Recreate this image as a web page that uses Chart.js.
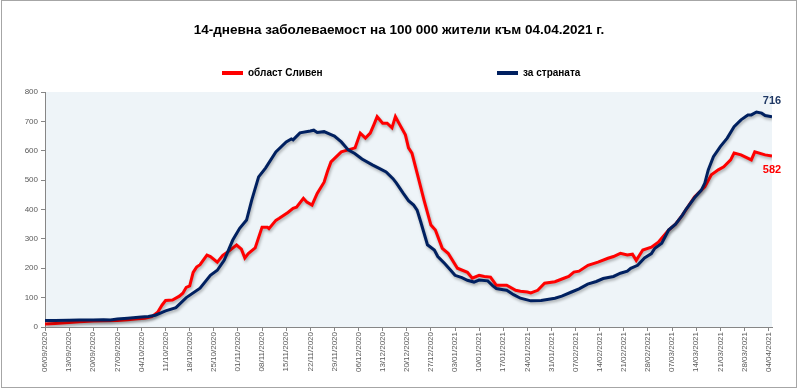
<!DOCTYPE html>
<html>
<head>
<meta charset="utf-8">
<script src="https://cdn.jsdelivr.net/npm/chart.js@4/dist/chart.umd.min.js"></script>
<style>
  html, body { margin: 0; padding: 0; background: #fff; }
  #wrap { width: 800px; height: 389px; }
</style>
</head>
<body>
<div id="wrap"><canvas id="myChart" width="800" height="389"></canvas></div>
<script>
let title = '14-дневна заболеваемост на 100 000 жители към 04.04.2021 г.';
let seriesNames = ['област Сливен', 'за страната'];
let colorHex = ['#ff0000', '#002060'];

let tickLabels = ['06/09/2020', '13/09/2020', '20/09/2020', '27/09/2020', '04/10/2020', '11/10/2020',
  '18/10/2020', '25/10/2020', '01/11/2020', '08/11/2020', '15/11/2020', '22/11/2020', '29/11/2020',
  '06/12/2020', '13/12/2020', '20/12/2020', '27/12/2020', '03/01/2021', '10/01/2021', '17/01/2021',
  '24/01/2021', '31/01/2021', '07/02/2021', '14/02/2021', '21/02/2021', '28/02/2021', '07/03/2021',
  '14/03/2021', '21/03/2021', '28/03/2021', '04/04/2021'];

// days counted from 06/09/2020
let slivenDays = [0, 3, 7, 10, 14, 17, 21, 24, 27, 29, 31, 32.7, 34, 35, 37, 39, 40, 41, 42, 43, 44, 45,
  47, 48, 50, 51.6, 53, 55.6, 57, 58, 59, 61, 63, 64.5, 65, 67, 68, 70.5, 72, 73, 75, 76, 77.5, 79, 81,
  82, 83, 86, 88, 90, 91.5, 93, 94.4, 95.5, 96.4, 98, 99.3, 100.7, 101.7, 103, 104.6, 105.5, 106.5, 108,
  110, 112, 113.3, 115.3, 117, 119.7, 122.6, 124, 126, 127.5, 129.3, 131, 134, 136.6, 138, 140, 141,
  143, 145, 148, 150.6, 152, 153.5, 155, 157.6, 160.5, 163.4, 165, 167, 169, 170.5, 171.6, 173.5, 176,
  178, 181, 183, 185, 188.5, 191.5, 193.4, 195.4, 197, 199, 200, 202, 205, 206, 209, 211];
let slivenValues = [10, 12, 15, 18, 20, 21, 22, 25, 28, 30, 35, 50, 75, 90, 92, 105, 115, 135, 140, 186,
  204, 212, 245, 240, 221, 244, 255, 279, 265, 235, 250, 269, 340, 340, 335, 363, 370, 390, 404, 408,
  438, 425, 415, 455, 493, 530, 562, 596, 603, 610, 660, 643, 660, 690, 716, 694, 694, 678, 716, 688,
  654, 610, 592, 524, 432, 347, 330, 268, 251, 200, 186, 166, 176, 172, 170, 142, 142, 125, 122, 119,
  116, 125, 149, 154, 166, 172, 187, 190, 210, 221, 234, 240, 251, 245, 248, 227, 262, 272, 289, 330,
  350, 381, 443, 477, 518, 535, 545, 569, 592, 586, 569, 596, 586, 582];

let countryDays = [0, 3, 7, 10, 14, 17, 19, 21, 24, 28, 30, 32, 34, 35, 38, 41, 45, 48, 50, 52, 54.5,
  56.5, 58.5, 60, 62, 64, 67, 70, 71.5, 72, 74, 77, 78, 79, 81, 83, 84, 86, 88, 90, 92, 95, 97, 99, 101,
  102, 104, 105.5, 107, 108, 109, 110, 111, 113, 114, 116, 118, 119, 121, 122.6, 124.5, 126, 128.5, 130,
  131, 133, 134, 136, 138, 141, 144, 148, 150, 153, 155, 157.5, 160, 162, 165, 167, 169, 170, 172, 174,
  176, 177, 179, 181, 183, 185, 186, 188.5, 190.5, 191.5, 192.5, 194, 196, 198, 200, 202, 204, 205,
  206.5, 208, 209, 211];
let countryValues = [22, 22, 23, 24, 24, 25, 24, 27, 30, 34, 36, 40, 50, 55, 66, 100, 132, 176, 193, 227,
  296, 336, 364, 432, 511, 541, 596, 630, 640, 637, 661, 667, 670, 662, 665, 655, 650, 630, 603, 590,
  572, 552, 540, 528, 505, 490, 455, 430, 415, 398, 360, 320, 280, 262, 240, 216, 190, 176, 168, 159,
  153, 160, 157, 140, 131, 127, 125, 110, 98, 89, 90, 98, 105, 120, 130, 146, 155, 165, 172, 183, 190,
  200, 210, 235, 250, 268, 285, 330, 350, 381, 400, 440, 466, 490, 535, 580, 614, 643, 682, 705, 722,
  722, 732, 728, 720, 716];

let toPoints = (days, values) => days.map((d, i) => ({ x: d, y: values[i] }));

let chartFont = 'Liberation Sans, Arial, sans-serif';

let plotBackground = {
  id: 'plotBackground',
  beforeDraw(chart) {
    let { ctx, chartArea: a } = chart;
    ctx.save();
    ctx.fillStyle = '#eef4f8';
    ctx.fillRect(a.left, a.top, a.right - a.left, a.bottom - a.top);
    ctx.strokeStyle = '#a6a6a6';
    ctx.lineWidth = 1;
    ctx.strokeRect(1.5, 0.5, 795, 387);
    ctx.restore();
  }
};

let lineShadow = {
  id: 'lineShadow',
  beforeDatasetDraw(chart) {
    let ctx = chart.ctx;
    ctx.save();
    ctx.shadowColor = 'rgba(0, 0, 0, 0.3)';
    ctx.shadowBlur = 3;
    ctx.shadowOffsetX = 1;
    ctx.shadowOffsetY = 2;
  },
  afterDatasetDraw(chart) {
    chart.ctx.restore();
  }
};

let headerAndLabels = {
  id: 'headerAndLabels',
  afterDraw(chart) {
    let ctx = chart.ctx;
    ctx.save();
    ctx.textBaseline = 'middle';
    ctx.fillStyle = '#000';
    ctx.font = 'bold 13.5px ' + chartFont;
    ctx.textAlign = 'center';
    ctx.fillText(title, 399, 30);

    // legend
    let legendX = [222, 497];
    ctx.font = 'bold 10px ' + chartFont;
    ctx.textAlign = 'left';
    seriesNames.forEach((name, i) => {
      ctx.fillStyle = colorHex[i];
      ctx.fillRect(legendX[i], 71, 21, 4);
      ctx.fillStyle = '#000';
      ctx.fillText(name, legendX[i] + 26, 73);
    });

    // last values
    ctx.font = 'bold 11px ' + chartFont;
    ctx.textAlign = 'center';
    chart.data.datasets.forEach((ds, i) => {
      let meta = chart.getDatasetMeta(i);
      let last = meta.data[meta.data.length - 1];
      let v = ds.data[ds.data.length - 1].y;
      ctx.fillStyle = i === 0 ? '#ff0000' : '#1f3864';
      let dy = i === 0 ? 14 : -16;
      ctx.fillText(String(v), last.x, last.y + dy);
    });
    ctx.restore();
  }
};

let ctx = document.getElementById('myChart').getContext('2d');
let myChart = new Chart(ctx, {
  type: 'line',
  data: {
    datasets: [{
      label: seriesNames[0],
      data: toPoints(slivenDays, slivenValues),
      borderColor: colorHex[0],
      backgroundColor: colorHex[0],
      borderWidth: 3,
      pointRadius: 0,
      tension: 0,
      order: 2
    }, {
      label: seriesNames[1],
      data: toPoints(countryDays, countryValues),
      borderColor: colorHex[1],
      backgroundColor: colorHex[1],
      borderWidth: 3,
      pointRadius: 0,
      tension: 0,
      order: 1
    }]
  },
  options: {
    responsive: false,
    animation: false,
    layout: {
      padding: { top: 92, right: 28, left: 0, bottom: 0 }
    },
    plugins: {
      legend: { display: false },
      tooltip: { enabled: false }
    },
    scales: {
      x: {
        type: 'linear',
        min: 0,
        max: 211,
        afterFit: (scale) => { scale.height = 62; },
        border: { color: '#868686' },
        grid: { drawOnChartArea: false, drawTicks: true, tickLength: 4, color: '#868686' },
        ticks: {
          stepSize: 7,
          includeBounds: false,
          autoSkip: false,
          minRotation: 90,
          maxRotation: 90,
          padding: 1,
          color: '#595959',
          font: { family: chartFont, size: 8 },
          callback: (value) => tickLabels[value / 7] || ''
        }
      },
      y: {
        min: 0,
        max: 800,
        afterFit: (scale) => { scale.width = 45; },
        border: { color: '#868686' },
        grid: { drawOnChartArea: false, drawTicks: true, tickLength: 4, color: '#868686' },
        ticks: {
          stepSize: 100,
          padding: 3,
          color: '#595959',
          font: { family: chartFont, size: 8 }
        }
      }
    }
  },
  plugins: [plotBackground, lineShadow, headerAndLabels]
});
</script>
</body>
</html>
